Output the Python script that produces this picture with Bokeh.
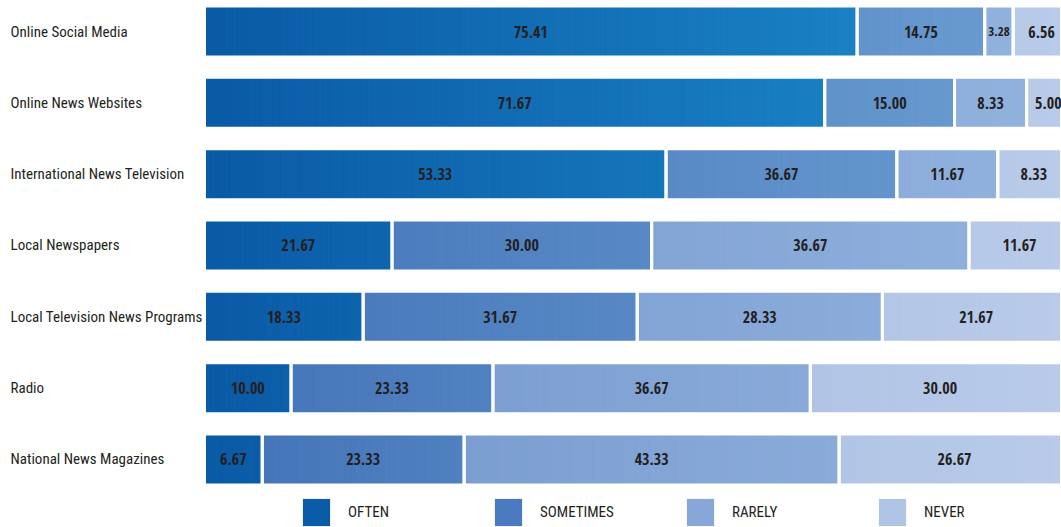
import math
from bokeh.plotting import figure
from bokeh.models import Range1d, ColumnDataSource, Legend, LegendItem
from bokeh.core.properties import value
from bokeh.embed import file_html
from bokeh.resources import INLINE

# ---------------- data ----------------
categories = ["Online Social Media", "Online News Websites", "International News Television",
              "Local Newspapers", "Local Television News Programs", "Radio", "National News Magazines"]
series_names = ["OFTEN", "SOMETIMES", "RARELY", "NEVER"]
often = [75.41, 71.67, 53.33, 21.67, 18.33, 10.00, 6.67]
sometimes = [14.75, 15.00, 26.67, 30.00, 31.67, 23.33, 23.33]   # bar lengths as drawn
rarely = [3.28, 8.33, 11.67, 36.67, 28.33, 36.67, 43.33]
never = [6.56, 5.00, 8.33, 11.67, 21.67, 30.00, 26.67]
# numbers as printed on the bars
often_printed = [75.41, 71.67, 53.33, 21.67, 18.33, 10.00, 6.67]
sometimes_printed = [14.75, 15.00, 36.67, 30.00, 31.67, 23.33, 23.33]
rarely_printed = [3.28, 8.33, 11.67, 36.67, 28.33, 36.67, 43.33]
never_printed = [6.56, 5.00, 8.33, 11.67, 21.67, 30.00, 26.67]

# ---------------- style ----------------
W, H = 1061, 527
X0_PX, PX_PER_UNIT = 204.0, 8.654
ROW0_PX, ROW_STEP_PX = 31.0, 71.33
BAR_H = 51.0 / ROW_STEP_PX
FONT = "Roboto Condensed"
BOLD_FONT = "Open Sans Condensed"
TEXT_COLOR = "#231f20"
# gradient end colours (at 0 % and 100 % of the axis) for each series
GRAD = [("#0a5aa6", "#1f8dcd"),
        ("#4373b8", "#6c9ed2"),
        ("#7195cd", "#93b3de"),
        ("#9eb4dc", "#b9cbe9")]
LEGEND_COLORS = ["#0b5ca8", "#4a7bc0", "#87a7d8", "#b0c4e6"]


def hex2rgb(h):
    h = h.lstrip("#")
    return tuple(int(h[i:i + 2], 16) for i in (0, 2, 4))


def interp(c0, c1, t):
    a, b = hex2rgb(c0), hex2rgb(c1)
    return "#%02x%02x%02x" % tuple(int(round(a[i] + (b[i] - a[i]) * t)) for i in range(3))


series = [often, sometimes, rarely, never]
printed = [often_printed, sometimes_printed, rarely_printed, never_printed]

x_start = -X0_PX / PX_PER_UNIT
x_end = (W - X0_PX) / PX_PER_UNIT
y_top = -ROW0_PX / ROW_STEP_PX
y_bottom = (H - ROW0_PX) / ROW_STEP_PX

p = figure(width=W, height=H, output_backend="svg", toolbar_location=None,
           x_range=Range1d(x_start, x_end), y_range=Range1d(y_bottom, y_top),
           min_border=0, min_border_left=0, min_border_right=0,
           min_border_top=0, min_border_bottom=0)
p.axis.visible = False
p.grid.visible = False
p.outline_line_color = None
p.background_fill_color = "white"
p.border_fill_color = "white"

# slices for the horizontal gradient
sl = dict(y=[], left=[], right=[], color=[])
seg = dict(y=[], left=[], right=[])
lab = dict(x=[], y=[], text=[], size=[])
for i in range(len(categories)):
    cum = 0.0
    for k, vals in enumerate(series):
        v = vals[i]
        start, end = cum, cum + v
        n = max(1, int(math.ceil(v / 0.5)))
        for j in range(n):
            a = start + v * j / n
            b = start + v * (j + 1) / n
            sl["y"].append(i)
            sl["left"].append(a)
            sl["right"].append(b)
            sl["color"].append(interp(GRAD[k][0], GRAD[k][1], min(1.0, (a + b) / 200.0)))
        seg["y"].append(i)
        seg["left"].append(start)
        seg["right"].append(end)
        lab["x"].append((start + end) / 2)
        lab["y"].append(i)
        lab["text"].append("%.2f" % printed[k][i])
        lab["size"].append("13px" if v < 5 else "16px")
        cum = end

p.hbar(y="y", left="left", right="right", height=BAR_H, source=ColumnDataSource(sl),
       fill_color="color", line_color="color", line_width=1)
p.hbar(y="y", left="left", right="right", height=BAR_H, source=ColumnDataSource(seg),
       fill_alpha=0, line_color="white", line_width=3)
p.text(x="x", y="y", text="text", source=ColumnDataSource(lab),
       text_font=value(BOLD_FONT), text_font_style="bold", text_font_size="size",
       text_color=TEXT_COLOR, text_align="center", text_baseline="middle")

# category labels (left aligned at the left edge)
label_x = (10 - X0_PX) / PX_PER_UNIT
p.text(x=[label_x] * len(categories), y=list(range(len(categories))), text=categories,
       text_font=value(FONT), text_font_size="15px", text_color=TEXT_COLOR,
       text_align="left", text_baseline="middle")

# legend (zero-size proxy glyphs only provide the swatch colours)
items = []
for name, c in zip(series_names, LEGEND_COLORS):
    r = p.quad(left=[0], right=[0], top=[0], bottom=[0], fill_color=c, line_alpha=0)
    items.append(LegendItem(label=name, renderers=[r]))
legend = Legend(items=items, orientation="horizontal", location=(299, -2),
                padding=0, margin=0, spacing=0, glyph_width=34, glyph_height=34,
                label_standoff=15, label_width=143, label_height=34,
                label_text_font=FONT, label_text_font_size="15px",
                label_text_color=TEXT_COLOR, border_line_alpha=0, background_fill_alpha=0)
p.add_layout(legend, "center")

open("out.html", "w").write(file_html(p, INLINE))
